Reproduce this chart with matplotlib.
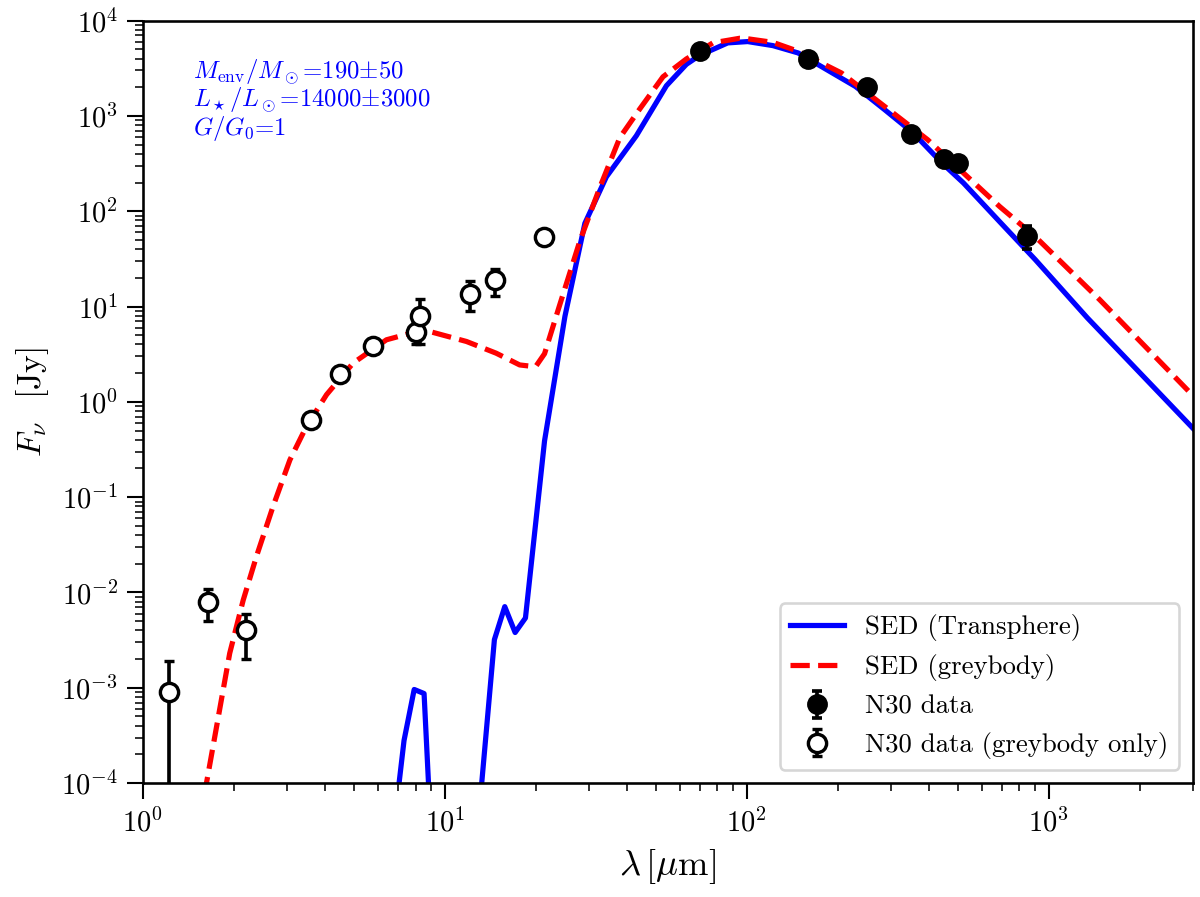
import numpy as np
import matplotlib
matplotlib.use('Agg')
import matplotlib.pyplot as plt

plt.rcParams['font.family'] = 'serif'
plt.rcParams['font.serif'] = ['cmr10']
plt.rcParams['mathtext.fontset'] = 'cm'
plt.rcParams['axes.formatter.use_mathtext'] = True
plt.rcParams['font.size'] = 11

# SED from Transphere model
blue_wl = [6.5, 7.0, 7.33, 7.92, 8.54, 9.0, 10.0, 12.0, 13.0, 14.6, 15.8, 17.1, 18.5,
           21.4, 25.0, 29.1, 34.3, 43.1, 54.2, 63.1, 69.9, 86.5, 100.7, 122, 148,
           184, 229, 286, 356, 443, 522, 687, 903, 1343, 3000]
blue_flux = [1e-6, 8e-5, 2.8e-4, 9.6e-4, 8.7e-4, 3e-5, 1e-7, 1e-7, 5e-5, 3.2e-3, 7.1e-3, 3.8e-3, 5.4e-3,
             0.39, 7.9, 74.6, 230, 620, 2075, 3480, 4330, 5840, 6030, 5470, 4580,
             3060, 2040, 1165, 662, 321, 198, 78, 31, 7.6, 0.53]

# greybody SED
red_wl = [1.5, 1.625, 1.94, 2.15, 2.38, 2.70, 3.07, 3.48, 4.06, 4.97, 6.41, 8.48, 9.15,
          11.8, 14.8, 17.7, 19.6, 20.1, 21.4, 24.0, 28.0, 32.6, 38.0, 44.2, 52.8, 63.1,
          77.3, 94.8, 100.7, 122, 148, 206, 286, 397, 522, 688, 903, 1475, 2990]
red_flux = [1e-5, 1e-4, 2.3e-3, 8.3e-3, 0.024, 0.08, 0.246, 0.55, 1.19, 2.55, 4.48, 5.7, 5.35,
            4.3, 3.24, 2.44, 2.35, 2.4, 3.2, 10.3, 48.5, 177, 593, 1180, 2575, 3960,
            5850, 6530, 6450, 5920, 4770, 2820, 1260, 564, 252, 112, 54, 11.8, 1.18]

# N30 photometry used in both fits
fit_wl = [70, 160, 250, 350, 450, 500, 850]
fit_flux = [4800, 4000, 2000, 650, 355, 320, 55]
fit_err = [480, 400, 200, 65, 35, 32, 15]

# N30 photometry used in greybody fit only
gb_wl = [1.22, 1.65, 2.2, 3.6, 4.5, 5.8, 8.0, 8.28, 12.1, 14.65, 21.3]
gb_flux = [9e-4, 8e-3, 4e-3, 0.64, 1.97, 3.87, 5.35, 8.0, 13.7, 18.8, 53.6]
gb_err = [1e-3, 3e-3, 2e-3, 0.03, 0.08, 0.15, 1.3, 4.0, 4.8, 6.0, 2.0]

fig = plt.figure(figsize=(6.4, 4.784), dpi=187.5, facecolor='white')
ax = fig.add_subplot(111)
fig.subplots_adjust(left=0.119, right=0.994, bottom=0.127, top=0.977)

ax.plot(blue_wl, blue_flux, '-', color='blue', lw=2.0, label='SED (Transphere)')
ax.plot(red_wl, red_flux, '--', color='red', lw=2.0, label='SED (greybody)')
ax.errorbar(fit_wl, fit_flux, yerr=fit_err, fmt='o', color='k', ms=7,
            elinewidth=1.4, capsize=2, capthick=1.4, label='N30 data', zorder=3)
ax.errorbar(gb_wl, gb_flux, yerr=gb_err, fmt='o', color='k', mfc='white', mec='k',
            ms=7, mew=1.3, elinewidth=1.4, capsize=2, capthick=1.4,
            label='N30 data (greybody only)', zorder=3)

ax.set_xscale('log')
ax.set_yscale('log')
ax.set_xlim(1, 3000)
ax.set_ylim(1e-4, 1e4)

ax.set_xlabel(r'$\lambda\,[\mu\mathrm{m}]$', fontsize=14)
ax.set_ylabel(r'$F_\nu$  [Jy]', fontsize=13)

ax.tick_params(which='major', length=6, width=0.8, labelsize=11)
ax.tick_params(which='minor', length=3, width=0.6)
for s in ax.spines.values():
    s.set_linewidth(1.0)

info = [r'$M_{\rm env}/M_\odot$=190$\pm$50',
        r'$L_\star/L_\odot$=14000$\pm$3000',
        r'$G/G_0$=1']
for line, yb in zip(info, [0.9248, 0.8875, 0.8504]):
    ax.text(0.048, yb, line, transform=ax.transAxes, color='blue',
            fontsize=9.5, va='baseline', ha='left')

ax.legend(loc='lower right', fontsize=10.3)

fig.savefig('out.png', dpi=187.5)
